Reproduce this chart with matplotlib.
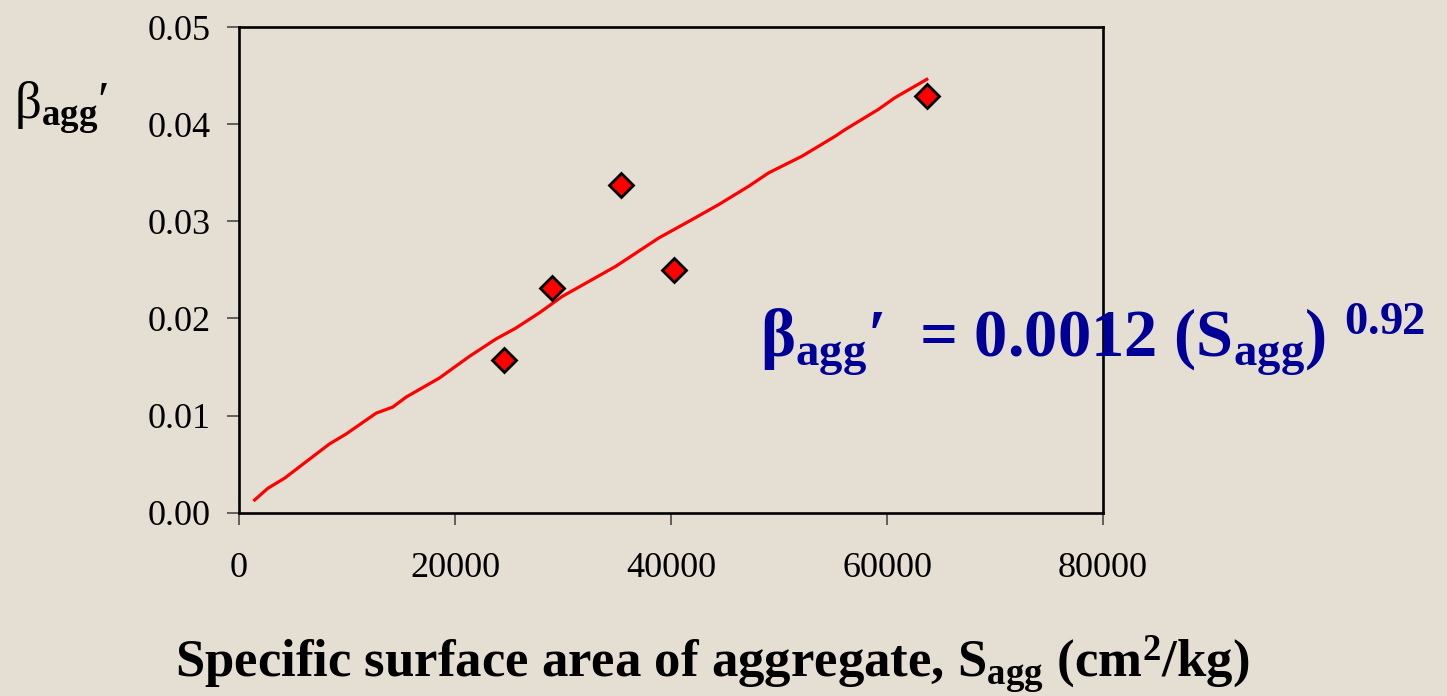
import matplotlib
matplotlib.use("Agg")
import matplotlib.pyplot as plt
from matplotlib.ticker import FormatStrFormatter, FixedLocator

# measured aggregates: specific surface area vs. beta_agg'
s_agg = [24500, 29000, 35400, 40300, 63700]
beta_agg = [0.0157, 0.0231, 0.0337, 0.0250, 0.0429]

# fitted curve, read as a polyline
fit_s = [1450, 2680, 4220, 6230, 8380, 9930, 12700, 14230, 15470, 18550,
         21320, 23790, 25640, 27790, 29940, 34880, 38880, 41960, 44430,
         47200, 49050, 52130, 55210, 56140, 59190, 60730, 63680]
fit_beta = [0.00131, 0.00252, 0.00355, 0.00526, 0.00708, 0.00811, 0.01025,
            0.01087, 0.01190, 0.01386, 0.01608, 0.01788, 0.01901, 0.02056,
            0.02227, 0.02536, 0.02829, 0.03018, 0.03173, 0.03361, 0.03499,
            0.03670, 0.03876, 0.03945, 0.04151, 0.04272, 0.04461]

x_ticks = [0, 20000, 40000, 60000, 80000]
y_ticks = [0.00, 0.01, 0.02, 0.03, 0.04, 0.05]

bg = '#e5ded2'
plt.rcParams['font.family'] = ['Liberation Serif', 'DejaVu Serif']
plt.rcParams['mathtext.fontset'] = 'custom'
plt.rcParams['mathtext.rm'] = 'Liberation Serif'
plt.rcParams['mathtext.it'] = 'Liberation Serif:italic'
plt.rcParams['mathtext.bf'] = 'Liberation Serif:bold'

fig = plt.figure(figsize=(14.47, 6.96), dpi=100, facecolor=bg)
ax = fig.add_axes([239 / 1447, 183.3 / 696, 864 / 1447, 485.7 / 696])
ax.set_facecolor('none')

ax.plot(fit_s, fit_beta, color='#ff0000', linewidth=2.3, zorder=2)
ax.plot(s_agg, beta_agg, linestyle='none', marker='D', markersize=12,
        markerfacecolor='#ff0000', markeredgecolor='black',
        markeredgewidth=2, zorder=3)

ax.set_xlim(0, 80000)
ax.set_ylim(0, 0.05)
ax.xaxis.set_major_locator(FixedLocator(x_ticks))
ax.yaxis.set_major_locator(FixedLocator(y_ticks))
ax.xaxis.set_major_formatter(FormatStrFormatter('%d'))
ax.yaxis.set_major_formatter(FormatStrFormatter('%.2f'))

for sp in ax.spines.values():
    sp.set_linewidth(1.9)
    sp.set_color('black')

ax.tick_params(axis='both', direction='out', length=8.5, width=1.3,
               color='#555555', labelsize=26, labelcolor='black')
ax.tick_params(axis='x', pad=20)
ax.tick_params(axis='y', pad=12)

# y label in the upper left corner
fig.text(14 / 1447, (696 - 119) / 696, 'β$_{\\mathbf{agg}}$′',
         fontsize=38, color='black', ha='left', va='baseline')

# x label
fig.text(712 / 1447, (696 - 677) / 696,
         'Specific surface area of aggregate, S$_{\\mathbf{agg}}$ (cm$^{\\mathbf{2}}$/kg)',
         fontsize=38, fontweight='bold', color='black',
         ha='center', va='baseline')

# fitted equation
fig.text(760 / 1447, (696 - 357) / 696,
         'β$_{\\mathbf{agg}}$′  = 0.0012 (S$_{\\mathbf{agg}}$) $^{\\mathbf{0.92}}$',
         fontsize=48, fontweight='bold', color='#000099',
         ha='left', va='baseline', zorder=5)

fig.savefig('out.png', dpi=100, facecolor=bg)
